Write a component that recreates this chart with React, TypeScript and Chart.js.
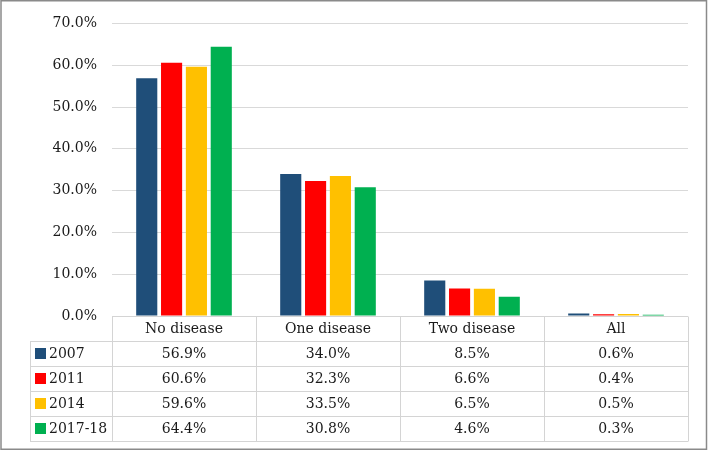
import React, { useEffect, useRef } from "react";
import { Chart, registerables } from "chart.js";

Chart.register(...registerables);

const categories = ["No disease", "One disease", "Two disease", "All"];
const seriesNames = ["2007", "2011", "2014", "2017-18"];
const values2007 = [56.9, 34.0, 8.5, 0.6];
const values2011 = [60.6, 32.3, 6.6, 0.4];
const values2014 = [59.6, 33.5, 6.5, 0.5];
const values201718 = [64.4, 30.8, 4.6, 0.3];
const seriesColors = ["#1F4E79", "#FF0000", "#FFC000", "#00B050"];
const yMax = 70;
const yStep = 10;

const FONT = "DejaVu Serif";
const TEXT_COLOR = "#1a1a1a";
const TABLE_LINE = "#d4d4d4";

const tablePlugin = {
  id: "dataTable",
  afterDraw(chart: any) {
    const ctx = chart.ctx as CanvasRenderingContext2D;
    const area = chart.chartArea;
    const all = [values2007, values2011, values2014, values201718];
    const colW = (area.right - area.left) / categories.length;
    const top = area.bottom;
    const rowH = 25;
    const legendLeft = 30;
    ctx.save();
    // outer frame
    ctx.strokeStyle = "#8a8a8a";
    ctx.lineWidth = 1.5;
    ctx.strokeRect(1, 0.75, 705.5, 448.5);

    ctx.strokeStyle = TABLE_LINE;
    ctx.lineWidth = 1;
    // horizontal lines
    for (let r = 0; r <= seriesNames.length + 1; r++) {
      const y = Math.round(top + r * rowH) + 0.5;
      ctx.beginPath();
      ctx.moveTo(r === 0 ? area.left : legendLeft, y);
      ctx.lineTo(area.right, y);
      ctx.stroke();
    }
    // vertical lines
    const bottom = Math.round(top + (seriesNames.length + 1) * rowH) + 0.5;
    ctx.beginPath();
    ctx.moveTo(legendLeft + 0.5, Math.round(top + rowH) + 0.5);
    ctx.lineTo(legendLeft + 0.5, bottom);
    ctx.stroke();
    for (let c = 0; c <= categories.length; c++) {
      const x = Math.round(area.left + c * colW) + 0.5;
      ctx.beginPath();
      ctx.moveTo(x, Math.round(top) + 0.5);
      ctx.lineTo(x, bottom);
      ctx.stroke();
    }
    ctx.font = `14px "${FONT}"`;
    ctx.fillStyle = TEXT_COLOR;
    ctx.textBaseline = "middle";
    ctx.textAlign = "center";
    categories.forEach((cat, c) => {
      ctx.fillText(cat, area.left + (c + 0.5) * colW, top + rowH / 2 + 1);
    });
    seriesNames.forEach((name, r) => {
      const yc = top + (r + 1.5) * rowH + 1;
      ctx.fillStyle = seriesColors[r];
      ctx.fillRect(35, Math.round(yc - 6.5), 11, 11);
      ctx.fillStyle = TEXT_COLOR;
      ctx.textAlign = "left";
      ctx.fillText(name, 49, yc);
      ctx.textAlign = "center";
      all[r].forEach((v, c) => {
        ctx.fillText(v.toFixed(1) + "%", area.left + (c + 0.5) * colW, yc);
      });
    });
    ctx.restore();
  },
};

export default function App() {
  const ref = useRef<HTMLCanvasElement>(null);
  useEffect(() => {
    document.body.style.margin = "0";
    const all = [values2007, values2011, values2014, values201718];
    const chart = new Chart(ref.current!, {
      type: "bar",
      data: {
        labels: categories,
        datasets: seriesNames.map((name, i) => ({
          label: name,
          data: all[i],
          backgroundColor: seriesColors[i],
          borderWidth: 0,
          barPercentage: 0.85,
          categoryPercentage: 0.69,
        })),
      },
      options: {
        animation: false,
        responsive: false,
        maintainAspectRatio: false,
        layout: { padding: { top: 20, right: 20, bottom: 135, left: 0 } },
        plugins: {
          legend: { display: false },
          tooltip: { enabled: false },
        },
        scales: {
          x: { display: false },
          y: {
            min: 0,
            max: yMax,
            ticks: {
              stepSize: yStep,
              padding: 15,
              color: TEXT_COLOR,
              font: { family: FONT, size: 14 },
              callback: (v: any) => Number(v).toFixed(1) + "%",
            },
            grid: { color: "#d9d9d9", lineWidth: 1, drawTicks: false },
            border: { display: false },
            afterFit: (s: any) => {
              s.width = 112;
            },
          },
        },
      },
      plugins: [tablePlugin],
    });
    return () => chart.destroy();
  }, []);
  return (
    <div style={{ position: "fixed", left: 0, top: 0, width: 708, height: 451, background: "#fff" }}>
      <canvas ref={ref} width={708} height={451} style={{ display: "block" }} />
    </div>
  );
}
